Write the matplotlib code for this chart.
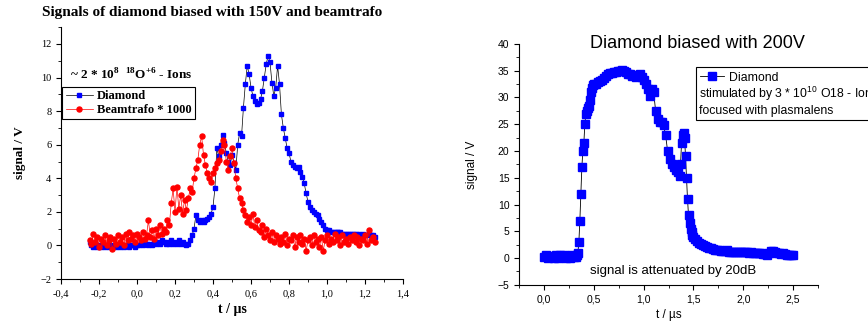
import numpy as np
import matplotlib
matplotlib.use("Agg")
import matplotlib.pyplot as plt
from matplotlib.ticker import MultipleLocator, FuncFormatter

plt.rcParams['mathtext.fontset'] = 'custom'
plt.rcParams['mathtext.rm'] = 'Liberation Serif:bold'
plt.rcParams['mathtext.sf'] = 'Liberation Sans'

# left panel: 150V diamond and beamtrafo, sampled every 10 ns
t_left = np.round(np.arange(-0.25, 1.2551, 0.01), 2)
diamond_150 = [
    0.2, 0.0, -0.1, 0.0, -0.1, 0.0, -0.1, 0.0, -0.1, 0.0,
    -0.1, 0.0, -0.1, 0.0, -0.1, 0.0, -0.1, 0.0, -0.1, 0.0,
    0.0, -0.1, 0.0, 0.0, -0.1, 0.0, 0.0, 0.1, 0.0, 0.1,
    0.1, 0.0, 0.1, 0.0, 0.2, 0.1, 0.2, 0.1, 0.3, 0.2,
    0.1, 0.2, 0.1, 0.3, 0.1, 0.2, 0.1, 0.3, 0.1, 0.2,
    0.1, 0.0, 0.1, 0.3, 0.6, 1.0, 1.8, 1.5, 1.4, 1.5,
    1.4, 1.5, 1.6, 1.7, 1.9, 2.3, 3.4, 5.8, 5.3, 6.0,
    6.6, 6.1, 5.5, 5.0, 4.8, 5.4, 4.9, 4.5, 6.0, 6.7,
    6.5, 8.2, 9.6, 10.7, 10.2, 9.4, 8.9, 8.6, 8.4, 8.5,
    8.7, 9.2, 10.0, 10.8, 11.3, 10.9, 9.7, 8.9, 9.4, 10.7,
    9.6, 7.8, 7.0, 6.4, 5.8, 5.5, 5.0, 4.8, 4.7, 4.6,
    4.7, 4.4, 4.1, 3.7, 3.1, 2.6, 2.3, 2.1, 2.0, 1.9,
    1.8, 1.6, 1.4, 1.2, 1.0, 0.9, 0.9, 0.8, 0.8, 0.8,
    0.8, 0.8, 0.8, 0.7, 0.7, 0.7, 0.7, 0.7, 0.7, 0.7,
    0.7, 0.6, 0.7, 0.6, 0.7, 0.6, 0.6, 0.7, 0.6, 0.6,
    0.5,
]
beamtrafo = [
    0.3, 0.1, 0.7, 0.2, 0.5, -0.1, 0.4, 0.2, 0.6, 0.0,
    0.3, 0.5, -0.2, 0.4, 0.1, 0.6, 0.2, 0.5, 0.0, 0.7,
    0.3, 0.8, 0.4, 0.6, 0.2, 0.7, 0.5, 0.3, 0.8, 0.4,
    0.6, 1.5, 0.5, 0.9, 0.4, 1.0, 0.6, 1.2, 0.7, 1.0,
    0.8, 1.5, 1.2, 2.5, 3.4, 2.0, 3.5, 2.2, 3.0, 1.9,
    2.7, 2.1, 2.8, 3.4, 3.2, 4.0, 4.6, 5.1, 6.0, 6.5,
    5.4, 4.8, 4.3, 4.0, 3.8, 4.3, 4.6, 4.9, 5.1, 5.6,
    6.3, 6.0, 5.0, 4.5, 5.3, 5.8, 4.9, 4.0, 3.4, 2.8,
    2.5, 2.1, 1.8, 1.4, 1.7, 1.2, 1.9, 1.1, 1.5, 0.9,
    0.8, 1.2, 0.5, 1.0, 0.6, 0.3, 0.8, 0.2, 0.6, 0.4,
    0.1, 0.5, 0.2, 0.7, 0.0, 0.4, 0.3, 0.6, -0.1, 0.5,
    0.2, 0.6, 0.1, 0.4, -0.3, 0.3, 0.5, 0.0, 0.6, 0.2,
    0.4, -0.1, 0.5, -0.3, 0.3, 0.6, 0.1, 0.4, 0.2, 0.7,
    0.3, 0.5, 0.0, 0.6, 0.2, 0.4, 0.1, 0.5, 0.3, 0.6,
    0.2, 0.5, 0.0, 0.4, 0.3, 0.6, 0.1, 0.9, 0.3, 0.5,
    0.2,
]

# right panel: 200V diamond (denser samples on the edges)
t_right = [
    0.00, 0.02, 0.04, 0.06, 0.08, 0.10, 0.12, 0.14, 0.16, 0.18,
    0.20, 0.22, 0.24, 0.26, 0.28, 0.30, 0.32,
    0.33, 0.34, 0.35, 0.36, 0.37, 0.38, 0.39, 0.40, 0.41, 0.42,
    0.43, 0.44, 0.45, 0.46, 0.47, 0.48, 0.49, 0.50,
    0.52, 0.54, 0.56, 0.58, 0.60, 0.62, 0.64, 0.66, 0.68, 0.70,
    0.72, 0.74, 0.76, 0.78, 0.80, 0.82, 0.84, 0.86, 0.88, 0.90,
    0.92, 0.94, 0.96, 0.98, 1.00, 1.02, 1.04, 1.06, 1.08, 1.10,
    1.12, 1.14, 1.16, 1.18, 1.20, 1.22, 1.24, 1.26, 1.28, 1.30,
    1.32, 1.34, 1.36, 1.37, 1.38, 1.39, 1.40, 1.41, 1.42, 1.43,
    1.44, 1.45, 1.46, 1.47, 1.48, 1.49, 1.50,
    1.52, 1.54, 1.56, 1.58, 1.60, 1.62, 1.64, 1.66, 1.68, 1.70,
    1.72, 1.74, 1.76, 1.78, 1.80, 1.82, 1.84, 1.86, 1.88, 1.90,
    1.92, 1.94, 1.96, 1.98, 2.00, 2.02, 2.04, 2.06, 2.08, 2.10,
    2.12, 2.14, 2.16, 2.18, 2.20, 2.22, 2.24, 2.26, 2.28, 2.30,
    2.32, 2.34, 2.36, 2.38, 2.40, 2.42, 2.44, 2.46, 2.48, 2.50,
]
diamond_200 = [
    0.3, 0.5, 0.0, 0.4, 0.2, 0.0, 0.6, 0.1, 0.5, 0.2,
    0.6, 0.1, 0.4, 0.0, 0.5, 0.2, 0.3,
    0.5, 1.0, 3.0, 7.0, 12.0, 17.0, 20.0, 21.5, 25.0, 27.0,
    27.5, 28.0, 28.5, 29.5, 31.0, 31.8, 32.3, 32.5,
    32.6, 32.8, 33.0, 33.3, 33.6, 34.0, 34.3, 34.5, 34.6, 34.8,
    34.8, 34.9, 35.0, 35.1, 35.0, 34.7, 34.4, 34.3, 34.0, 34.2,
    33.8, 34.1, 34.3, 33.9, 33.2, 32.5, 31.5, 30.2, 31.5, 31.0,
    27.5, 26.0, 25.5, 25.4, 24.8, 23.0, 20.0, 18.5, 17.5, 17.0,
    16.5, 16.0, 15.3, 17.5, 21.5, 23.0, 23.3, 22.5, 19.0, 15.0,
    11.0, 8.0, 6.5, 5.5, 4.8, 4.3, 3.9,
    3.5, 3.2, 2.9, 2.6, 2.4, 2.2, 2.0, 1.9, 1.8, 1.7,
    1.6, 1.5, 1.5, 1.4, 1.3, 1.3, 1.6, 1.2, 1.2, 1.1,
    1.1, 1.2, 1.1, 1.1, 1.1, 1.1, 1.2, 1.0, 1.1, 1.0,
    1.0, 1.0, 0.9, 0.9, 0.8, 0.7, 0.6, 0.9, 1.3, 1.4,
    1.2, 1.0, 1.0, 0.8, 0.9, 0.7, 0.6, 0.5, 0.6, 0.6,
]

comma = FuncFormatter(lambda v, p: f"{v:.1f}".replace('.', ','))

fig = plt.figure(figsize=(8.68, 3.23), dpi=100)

# ---- left panel (serif, Origin style)
serif = 'Liberation Serif'
ax1 = fig.add_axes([0.0703, 0.136, 0.394, 0.780])
ax1.plot(t_left, diamond_150, color='black', lw=0.5, marker='s', ms=3.2,
         mfc='#0000ff', mec='#0000ff', label='Diamond')
ax1.plot(t_left, beamtrafo, color='red', lw=0.5, marker='o', ms=3.6,
         mfc='red', mec='red', label='Beamtrafo * 1000')
ax1.set_xlim(-0.4, 1.4)
ax1.set_ylim(-2, 13)
ax1.xaxis.set_major_locator(MultipleLocator(0.2))
ax1.xaxis.set_minor_locator(MultipleLocator(0.1))
ax1.yaxis.set_major_locator(MultipleLocator(2))
ax1.yaxis.set_minor_locator(MultipleLocator(1))
ax1.xaxis.set_major_formatter(comma)
ax1.spines[['top', 'right']].set_visible(False)
ax1.tick_params(which='both', direction='out', labelsize=7.5)
ax1.tick_params(which='major', length=3.5)
ax1.tick_params(which='minor', length=2)
for lab in ax1.get_xticklabels() + ax1.get_yticklabels():
    lab.set_fontfamily(serif)
ax1.set_xlabel('t / µs', fontfamily=serif, fontweight='bold', fontsize=10, labelpad=4)
ax1.set_ylabel('signal / V', fontfamily=serif, fontweight='bold', fontsize=9.5, labelpad=10)
fig.text(0.244, 0.96, 'Signals of diamond biased with 150V and beamtrafo',
         ha='center', va='center', fontfamily=serif, fontweight='bold', fontsize=11)
ax1.text(0.026, 0.81, r'~ 2 * 10$^{8}$  $^{18}$O$^{+6}$ - Ions', transform=ax1.transAxes,
         fontfamily=serif, fontweight='bold', fontsize=9.5, va='center')
leg1 = ax1.legend(loc='upper left', bbox_to_anchor=(0.004, 0.762), fancybox=False,
                  edgecolor='black', framealpha=1, borderpad=0.25, handlelength=2.2,
                  handletextpad=0.3, labelspacing=0.15, borderaxespad=0,
                  prop={'family': serif, 'weight': 'bold', 'size': 9})
leg1.get_frame().set_linewidth(0.8)

# ---- right panel (sans)
sans = 'Liberation Sans'
ax2 = fig.add_axes([0.598, 0.118, 0.3445, 0.746])
line2, = ax2.plot(t_right, diamond_200, color='black', lw=0.6, marker='s', ms=5.8,
                  mfc='#0000ff', mec='#0000ff', label='Diamond')
ax2.set_xlim(-0.25, 2.75)
ax2.set_ylim(-5, 40)
ax2.xaxis.set_major_locator(MultipleLocator(0.5))
ax2.xaxis.set_minor_locator(MultipleLocator(0.25))
ax2.yaxis.set_major_locator(MultipleLocator(5))
ax2.yaxis.set_minor_locator(MultipleLocator(2.5))
ax2.xaxis.set_major_formatter(comma)
ax2.spines[['top', 'right']].set_visible(False)
ax2.tick_params(which='both', direction='out', labelsize=7.5)
ax2.tick_params(which='major', length=3.5)
ax2.tick_params(which='minor', length=2)
for lab in ax2.get_xticklabels() + ax2.get_yticklabels():
    lab.set_fontfamily(sans)
ax2.set_xlabel('t / µs', fontfamily=sans, fontsize=8.5, labelpad=3)
ax2.set_ylabel('signal / V', fontfamily=sans, fontsize=8.5, labelpad=14)
ax2.text(0.595, 0.985, 'Diamond biased with 200V', transform=ax2.transAxes,
         ha='center', va='baseline', fontfamily=sans, fontsize=13)
ax2.text(0.515, 0.058, 'signal is attenuated by 20dB', transform=ax2.transAxes,
         ha='center', va='center', fontfamily=sans, fontsize=9.5)
fig.text(0.805, 0.711, '\nstimulated by 3 * 10$^{\\mathsf{10}}$ O18 - Ions\nfocused with plasmalens',
         ha='left', va='center', fontfamily=sans, fontsize=8.8, linespacing=1.2,
         bbox=dict(boxstyle='square,pad=0.25', fc='white', ec='black', lw=0.8))
fig.legend(handles=[line2], loc='upper left', bbox_to_anchor=(0.806, 0.778),
           frameon=False, borderpad=0, borderaxespad=0, handlelength=2.0,
           handletextpad=0.4, prop={'family': sans, 'size': 8.8})

fig.savefig('out.png', dpi=100)
